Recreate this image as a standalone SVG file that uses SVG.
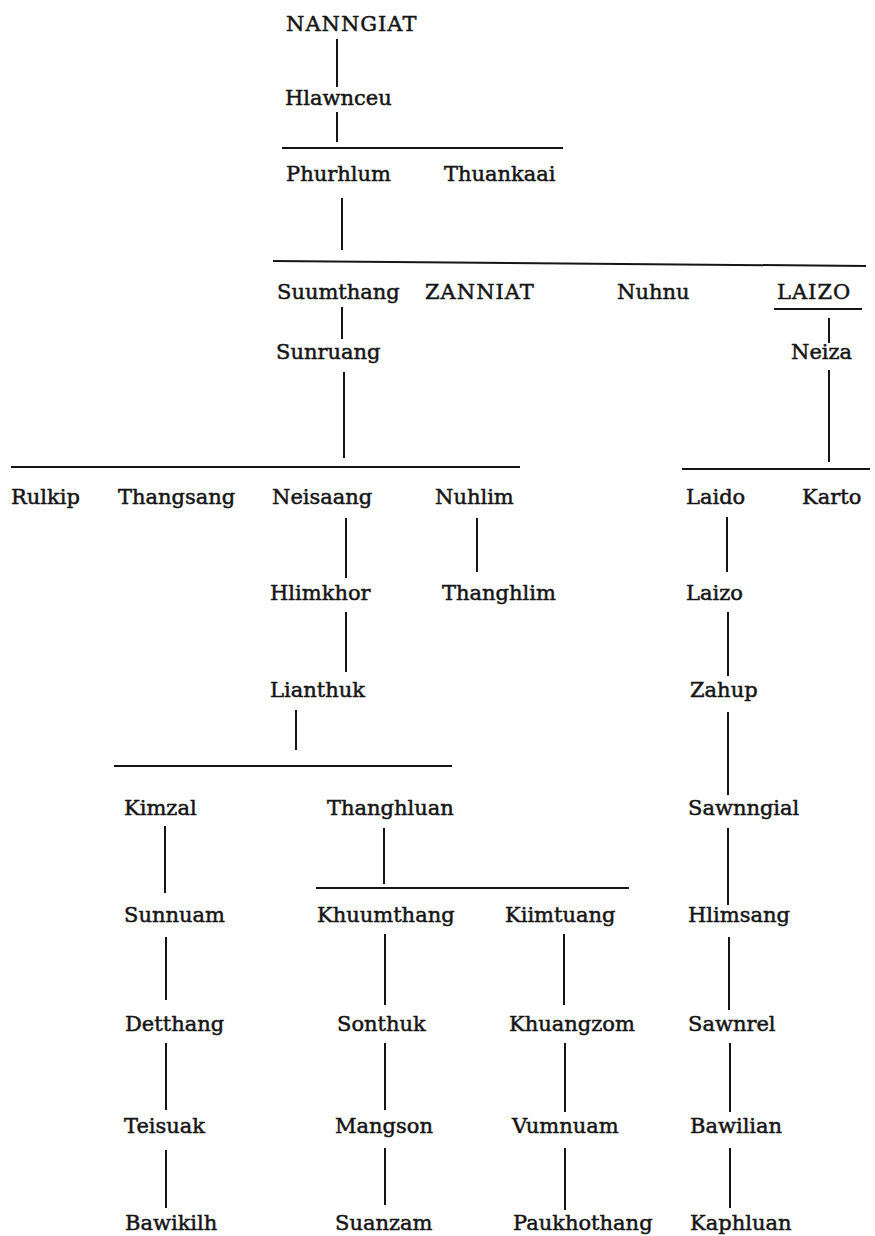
<svg xmlns="http://www.w3.org/2000/svg" width="875" height="1236" viewBox="0 0 875 1236">
<style>
text{font-family:"DejaVu Serif","Liberation Serif",serif;font-size:21px;fill:#151515;stroke:#151515;stroke-width:0.5px}
.cap{letter-spacing:1px}
line{stroke:#151515;stroke-width:2}
</style>
<rect width="875" height="1236" fill="#fff"/>
<g id="connectors">
<line x1="337" y1="39" x2="337" y2="87"/>
<line x1="337" y1="112" x2="337" y2="142"/>
<line x1="282" y1="148" x2="563" y2="148"/>
<line x1="342" y1="198" x2="342" y2="250"/>
<line x1="273" y1="261" x2="866" y2="266"/>
<line x1="342" y1="307" x2="342" y2="339"/>
<line x1="829" y1="318" x2="829" y2="343"/>
<line x1="344" y1="372" x2="344" y2="458"/>
<line x1="829" y1="370" x2="829" y2="462"/>
<line x1="11" y1="467" x2="520" y2="467"/>
<line x1="682" y1="469" x2="870" y2="469"/>
<line x1="346" y1="518" x2="346" y2="578"/>
<line x1="477" y1="518" x2="477" y2="572"/>
<line x1="727" y1="517" x2="727" y2="572"/>
<line x1="346" y1="612" x2="346" y2="672"/>
<line x1="728" y1="612" x2="728" y2="676"/>
<line x1="296" y1="710" x2="296" y2="750"/>
<line x1="728" y1="712" x2="728" y2="795"/>
<line x1="114" y1="766" x2="452" y2="766"/>
<line x1="165" y1="826" x2="165" y2="893"/>
<line x1="384" y1="828" x2="384" y2="884"/>
<line x1="728" y1="828" x2="728" y2="905"/>
<line x1="316" y1="888" x2="629" y2="888"/>
<line x1="166" y1="937" x2="166" y2="1000"/>
<line x1="385" y1="934" x2="385" y2="1005"/>
<line x1="564" y1="934" x2="564" y2="1005"/>
<line x1="729" y1="937" x2="729" y2="1010"/>
<line x1="166" y1="1043" x2="166" y2="1110"/>
<line x1="385" y1="1043" x2="385" y2="1110"/>
<line x1="565" y1="1043" x2="565" y2="1112"/>
<line x1="730" y1="1043" x2="730" y2="1112"/>
<line x1="166" y1="1150" x2="166" y2="1208"/>
<line x1="385" y1="1148" x2="385" y2="1205"/>
<line x1="565" y1="1148" x2="565" y2="1210"/>
<line x1="730" y1="1148" x2="730" y2="1208"/>
</g>
<g id="n-nanngiat"><text class="cap" x="286" y="31">NANNGIAT</text></g>
<g id="n-hlawnceu"><text x="285" y="105">Hlawnceu</text></g>
<g id="n-phurhlum"><text x="286" y="181">Phurhlum</text></g>
<g id="n-thuankaai"><text x="444" y="181">Thuankaai</text></g>
<g id="n-suumthang"><text x="277" y="299">Suumthang</text></g>
<g id="n-zanniat"><text class="cap" x="425" y="299">ZANNIAT</text></g>
<g id="n-nuhnu"><text x="617" y="299">Nuhnu</text></g>
<g id="n-laizo-cap"><text class="cap" x="777" y="299">LAIZO</text><line x1="774" y1="309" x2="862" y2="309"/></g>
<g id="n-sunruang"><text x="276" y="359">Sunruang</text></g>
<g id="n-neiza"><text x="791" y="359">Neiza</text></g>
<g id="n-rulkip"><text x="11" y="504">Rulkip</text></g>
<g id="n-thangsang"><text x="118" y="504">Thangsang</text></g>
<g id="n-neisaang"><text x="272" y="504">Neisaang</text></g>
<g id="n-nuhlim"><text x="435" y="504">Nuhlim</text></g>
<g id="n-laido"><text x="686" y="504">Laido</text></g>
<g id="n-karto"><text x="802" y="504">Karto</text></g>
<g id="n-hlimkhor"><text x="270" y="600">Hlimkhor</text></g>
<g id="n-thanghlim"><text x="442" y="600">Thanghlim</text></g>
<g id="n-laizo"><text x="686" y="600">Laizo</text></g>
<g id="n-lianthuk"><text x="270" y="697">Lianthuk</text></g>
<g id="n-zahup"><text x="690" y="697">Zahup</text></g>
<g id="n-kimzal"><text x="124" y="815">Kimzal</text></g>
<g id="n-thanghluan"><text x="327" y="815">Thanghluan</text></g>
<g id="n-sawnngial"><text x="688" y="815">Sawnngial</text></g>
<g id="n-sunnuam"><text x="124" y="922">Sunnuam</text></g>
<g id="n-khuumthang"><text x="317" y="922">Khuumthang</text></g>
<g id="n-kiimtuang"><text x="505" y="922">Kiimtuang</text></g>
<g id="n-hlimsang"><text x="688" y="922">Hlimsang</text></g>
<g id="n-detthang"><text x="125" y="1031">Detthang</text></g>
<g id="n-sonthuk"><text x="337" y="1031">Sonthuk</text></g>
<g id="n-khuangzom"><text x="509" y="1031">Khuangzom</text></g>
<g id="n-sawnrel"><text x="688" y="1031">Sawnrel</text></g>
<g id="n-teisuak"><text x="124" y="1133">Teisuak</text></g>
<g id="n-mangson"><text x="335" y="1133">Mangson</text></g>
<g id="n-vumnuam"><text x="512" y="1133">Vumnuam</text></g>
<g id="n-bawilian"><text x="690" y="1133">Bawilian</text></g>
<g id="n-bawikilh"><text x="125" y="1230">Bawikilh</text></g>
<g id="n-suanzam"><text x="335" y="1230">Suanzam</text></g>
<g id="n-paukhothang"><text x="513" y="1230">Paukhothang</text></g>
<g id="n-kaphluan"><text x="690" y="1230">Kaphluan</text></g>
</svg>
